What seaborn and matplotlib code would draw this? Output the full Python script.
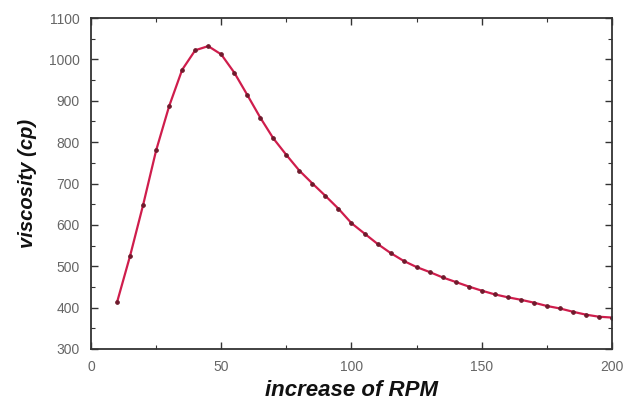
import matplotlib
matplotlib.use("Agg")
import matplotlib.pyplot as plt
import seaborn as sns
import pandas as pd
from matplotlib.ticker import MultipleLocator

rpm = [10, 15, 20, 25, 30, 35, 40, 45, 50, 55, 60, 65, 70, 75, 80, 85, 90, 95,
       100, 105, 110, 115, 120, 125, 130, 135, 140, 145, 150, 155, 160, 165,
       170, 175, 180, 185, 190, 195, 200]
viscosity = [413, 525, 648, 780, 887, 975, 1022, 1032, 1012, 968, 914, 859,
             809, 769, 731, 700, 670, 639, 604, 579, 554, 532, 513, 498, 486,
             473, 462, 451, 441, 432, 425, 419, 412, 404, 398, 390, 383, 378, 376]

x_label = "increase of RPM"
y_label = "viscosity (cp)"

df = pd.DataFrame({"rpm": rpm, "viscosity": viscosity})

sns.set_theme(style="white")
plt.rcParams['font.family'] = ['Liberation Sans', 'DejaVu Sans']

fig = plt.figure(figsize=(6.3, 4.03), dpi=100)
ax = fig.add_axes([91/630, 1-349/403, (612-91)/630, (349-18)/403])

sns.lineplot(data=df, x="rpm", y="viscosity", ax=ax, color="#cf1d4c",
             linewidth=1.6, marker="o", markersize=2.6,
             markerfacecolor="#6e1a2c", markeredgecolor="#6e1a2c")

ax.set_xlim(0, 200)
ax.set_ylim(300, 1100)
ax.xaxis.set_major_locator(MultipleLocator(50))
ax.xaxis.set_minor_locator(MultipleLocator(25))
ax.yaxis.set_major_locator(MultipleLocator(100))
ax.yaxis.set_minor_locator(MultipleLocator(50))
ax.tick_params(which="both", direction="in", top=True, right=True,
               bottom=True, left=True, color="#333333")
ax.tick_params(which="major", length=5, width=1.0, labelsize=10,
               labelcolor="#666666", pad=8)
ax.tick_params(which="minor", length=3, width=0.8)
for s in ax.spines.values():
    s.set_color("#333333")
    s.set_linewidth(1.3)

ax.set_xlabel(x_label, fontsize=16, fontweight="bold", fontstyle="italic",
              color="#111111", labelpad=4)
ax.set_ylabel(y_label, fontsize=14.5, fontweight="bold", fontstyle="italic",
              color="#111111", labelpad=9)

fig.savefig("out.png", dpi=100)
